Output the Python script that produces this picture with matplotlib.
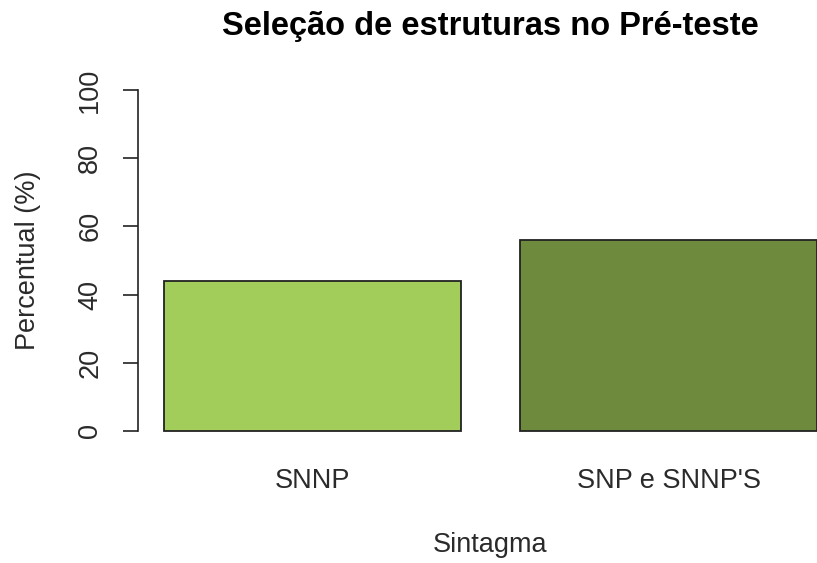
import matplotlib
matplotlib.use("Agg")
import matplotlib.pyplot as plt

categorias = ["SNNP", "SNP e SNNP'S"]
percentuais = [44, 56]
cores = ["#A2CD5A", "#6E8B3D"]
y_ticks = [0, 20, 40, 60, 80, 100]

plt.rcParams['font.family'] = ['Liberation Sans', 'DejaVu Sans']
txt = '#2a2a2a'
fs = 19.5

W, H = 817, 563
fig = plt.figure(figsize=(W / 100, H / 100), dpi=100)
# plot region in pixels (R barplot style, runs past the right edge)
left, right, bottom, top = 138, 843, 444.6, 76.4
ax = fig.add_axes([left / W, (H - bottom) / H, (right - left) / W, (bottom - top) / H])

# R barplot: width 1, space 0.2
pos = [0.2 + 0.5 + i * 1.2 for i in range(len(categorias))]
ax.bar(pos, percentuais, width=1.0, color=cores, edgecolor='#222222', linewidth=1.3)

ax.set_xlim(0.112, 2.488)
ax.set_ylim(-4, 104)

for s in ['top', 'right', 'bottom']:
    ax.spines[s].set_visible(False)
ax.spines['left'].set_bounds(0, 100)
ax.spines['left'].set_color('#222222')
ax.spines['left'].set_linewidth(1.2)

ax.set_yticks(y_ticks)
ax.set_yticklabels([str(v) for v in y_ticks], rotation=90, va='center')
ax.tick_params(axis='y', length=11, width=1.2, color='#222222', pad=14,
               labelsize=fs, labelcolor=txt)
ax.set_xticks(pos)
ax.set_xticklabels(categorias)
ax.tick_params(axis='x', length=0, pad=17, labelsize=fs, labelcolor=txt)

ax.set_xlabel('Sintagma', fontsize=fs, color=txt)
ax.xaxis.set_label_coords(0.5, -0.273)
ax.xaxis.label.set_va('center')
ax.set_ylabel('Percentual (%)', fontsize=fs, color=txt)
ax.yaxis.set_label_coords(-0.156, 0.5)
ax.yaxis.label.set_va('center')

ax.text(0.5, 1.136, 'Seleção de estruturas no Pré-teste', transform=ax.transAxes,
        ha='center', va='center', fontsize=23.5, fontweight='bold', color='black')

fig.savefig('out.png', dpi=100)
